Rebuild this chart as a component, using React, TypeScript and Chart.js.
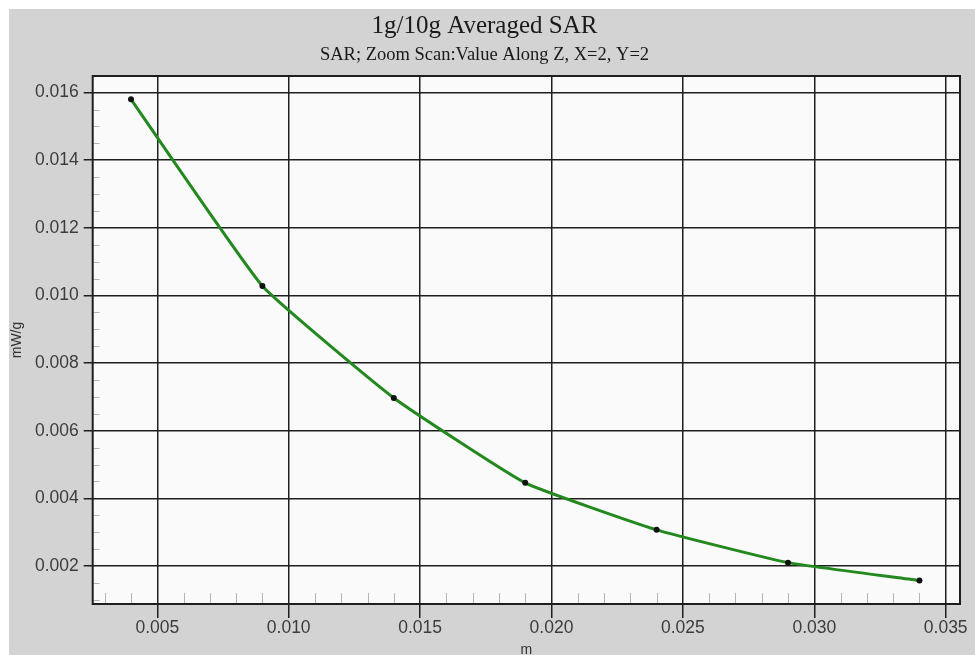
import React, { useEffect, useRef } from "react";
import { Chart, registerables } from "chart.js";

Chart.register(...registerables);

// ---- data ----
const depths = [0.004, 0.009, 0.014, 0.019, 0.024, 0.029, 0.034];
const sarValues = [0.0158, 0.01028, 0.00697, 0.00446, 0.00307, 0.0021, 0.00157];
const titleText = "1g/10g Averaged SAR";
const subtitleText = "SAR; Zoom Scan:Value Along Z, X=2, Y=2";
const xAxisLabel = "m";
const yAxisLabel = "mW/g";
const xRange = [0.002542, 0.035544];
const yRange = [0.000877, 0.016491];
const xMajorStep = 0.005;
const xMinorStep = 0.001;
const yMajorStep = 0.002;
const yMinorStep = 0.0005;

const plotFrame = {
  id: "plotFrame",
  beforeDraw(chart: any) {
    const { ctx, chartArea: a } = chart;
    ctx.save();
    ctx.fillStyle = "#fafafa";
    ctx.fillRect(a.left, a.top, a.right - a.left, a.bottom - a.top);
    ctx.restore();
  },
  beforeDatasetsDraw(chart: any) {
    const { ctx, chartArea: a, scales } = chart;
    ctx.save();
    ctx.strokeStyle = "#b4b4b4";
    ctx.lineWidth = 1;
    const xs = scales.x;
    const xr = Math.round(xMajorStep / xMinorStep);
    for (let i = Math.ceil(xs.min / xMinorStep); i * xMinorStep <= xs.max; i++) {
      if (i % xr === 0) continue;
      const px = Math.round(xs.getPixelForValue(i * xMinorStep)) + 0.5;
      ctx.beginPath();
      ctx.moveTo(px, a.bottom);
      ctx.lineTo(px, a.bottom - 11);
      ctx.stroke();
    }
    const ys = scales.y;
    const yr = Math.round(yMajorStep / yMinorStep);
    for (let i = Math.ceil(ys.min / yMinorStep); i * yMinorStep <= ys.max; i++) {
      if (i % yr === 0) continue;
      const py = Math.round(ys.getPixelForValue(i * yMinorStep)) + 0.5;
      ctx.beginPath();
      ctx.moveTo(a.left, py);
      ctx.lineTo(a.left + 7, py);
      ctx.stroke();
    }
    ctx.restore();
  },
  afterDatasetsDraw(chart: any) {
    const { ctx, chartArea: a } = chart;
    ctx.save();
    ctx.strokeStyle = "#1e1e1e";
    ctx.lineWidth = 2;
    ctx.strokeRect(a.left, a.top, a.right - a.left, a.bottom - a.top);
    ctx.restore();
  },
};

export default function App() {
  const ref = useRef<HTMLCanvasElement | null>(null);

  useEffect(() => {
    if (!ref.current) return;
    const chart = new Chart(ref.current, {
      type: "line",
      data: {
        datasets: [
          {
            data: depths.map((x, i) => ({ x, y: sarValues[i] })),
            borderColor: "#23891f",
            borderWidth: 3,
            tension: 0.12,
            pointRadius: 3,
            pointBackgroundColor: "#111",
            pointBorderColor: "#111",
            pointBorderWidth: 0,
            fill: false,
          },
        ],
      },
      options: {
        responsive: false,
        animation: false,
        devicePixelRatio: 1,
        layout: { padding: { left: 0, right: 31, top: 0, bottom: 0 } },
        plugins: {
          legend: { display: false },
          tooltip: { enabled: false },
          title: {
            display: true,
            text: titleText,
            color: "#1a1a1a",
            font: { family: "'Liberation Serif', serif", size: 25, weight: "normal", lineHeight: 1.2 },
            padding: { top: 2.5, bottom: 0 },
          },
          subtitle: {
            display: true,
            text: subtitleText,
            color: "#1a1a1a",
            font: { family: "'Liberation Serif', serif", size: 18.5, weight: "normal", lineHeight: 1.2 },
            padding: { top: 2.6, bottom: 9.7 },
          },
        },
        scales: {
          x: {
            type: "linear",
            min: xRange[0],
            max: xRange[1],
            afterFit: (s: any) => {
              s.height = 55;
            },
            border: { display: false },
            grid: { color: "#1e1e1e", lineWidth: 1.5, tickLength: 14, drawTicks: true },
            ticks: {
              stepSize: xMajorStep,
              includeBounds: false,
              autoSkip: false,
              maxRotation: 0,
              padding: 0,
              color: "#3c3c3c",
              font: { family: "'Liberation Sans', Arial, sans-serif", size: 17.5 },
              callback: (v: any) => Number(v).toFixed(3),
            },
            title: {
              display: true,
              text: xAxisLabel,
              color: "#333",
              padding: 0,
              font: { family: "'Liberation Sans', Arial, sans-serif", size: 14, lineHeight: 1.2 },
            },
          },
          y: {
            type: "linear",
            min: yRange[0],
            max: yRange[1],
            afterFit: (s: any) => {
              s.width = 83.7;
            },
            border: { display: false },
            grid: { color: "#1e1e1e", lineWidth: 1.5, tickLength: 9, drawTicks: true },
            ticks: {
              stepSize: yMajorStep,
              includeBounds: false,
              autoSkip: false,
              padding: 5,
              color: "#3c3c3c",
              font: { family: "'Liberation Sans', Arial, sans-serif", size: 17.5 },
              callback: (v: any) => Number(v).toFixed(3),
            },
            title: {
              display: true,
              text: yAxisLabel,
              color: "#333",
              padding: 0,
              font: { family: "'Liberation Sans', Arial, sans-serif", size: 14, lineHeight: 1.2 },
            },
          },
        },
      } as any,
      plugins: [plotFrame],
    });
    return () => chart.destroy();
  }, []);

  return (
    <div
      style={{
        position: "fixed",
        left: 9,
        top: 9,
        width: 966,
        height: 646,
        overflow: "hidden",
        background: "#d3d3d3",
      }}
    >
      <canvas ref={ref} width={982} height={650} style={{ display: "block" }} />
    </div>
  );
}
